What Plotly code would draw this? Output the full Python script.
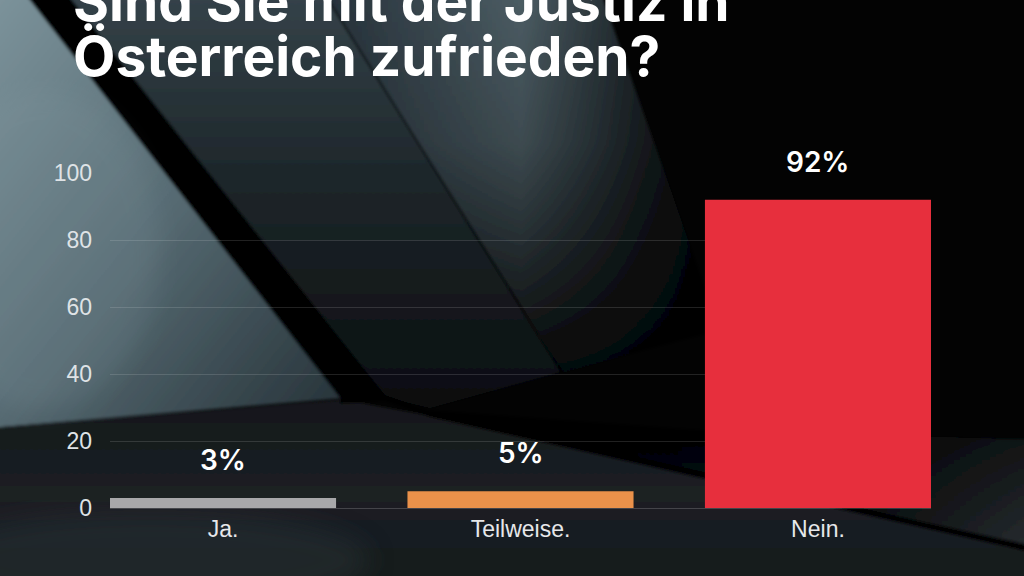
import base64
import plotly.graph_objects as go

# ---- data ----
categories = ["Ja.", "Teilweise.", "Nein."]
values = [3, 5, 92]
value_labels = ["3%", "5%", "92%"]
bar_colors = ["#a8a8aa", "#ea914a", "#e72f3d"]
y_ticks = [0, 20, 40, 60, 80, 100]
title_lines = ["Sind Sie mit der Justiz in", "Österreich zufrieden?"]

W, H = 1024, 576
L, R, T, B = 110, 93, 173, 68
PW, PH = W - L - R, H - T - B

def px(x):
    return (x - L) / PW

def py(y):
    return (H - B - y) / PH

# ---- background artwork (styling only) ----
svg = f"""<svg xmlns='http://www.w3.org/2000/svg' width='{W}' height='{H}' viewBox='0 0 {W} {H}' preserveAspectRatio='none'>
<defs>
<linearGradient id='gl' x1='0' y1='0' x2='1' y2='1'>
<stop offset='0' stop-color='#7d949c'/><stop offset='0.5' stop-color='#566a72'/><stop offset='1' stop-color='#243036'/></linearGradient>
<linearGradient id='gm' x1='0' y1='0' x2='0' y2='1'>
<stop offset='0' stop-color='#35434a'/><stop offset='0.45' stop-color='#1d262a'/><stop offset='1' stop-color='#0a0d0f'/></linearGradient>
<linearGradient id='gw' x1='0' y1='0' x2='1' y2='0'>
<stop offset='0' stop-color='#26313a'/><stop offset='0.5' stop-color='#4c5d64'/><stop offset='0.8' stop-color='#1a2125'/><stop offset='1' stop-color='#000'/></linearGradient>
<linearGradient id='gwv' x1='0' y1='0' x2='0' y2='1'>
<stop offset='0' stop-color='#000' stop-opacity='0'/><stop offset='0.4' stop-color='#000' stop-opacity='0.2'/><stop offset='1' stop-color='#000' stop-opacity='0.92'/></linearGradient>
<linearGradient id='gf' x1='0' y1='0' x2='0' y2='1'>
<stop offset='0' stop-color='#13171a'/><stop offset='0.5' stop-color='#1b2024'/><stop offset='1' stop-color='#15191c'/></linearGradient>
<linearGradient id='gr' x1='0' y1='0' x2='1' y2='0'>
<stop offset='0' stop-color='#060708'/><stop offset='0.7' stop-color='#0b0d0f'/><stop offset='1' stop-color='#262c30'/></linearGradient>
<linearGradient id='grv' x1='0' y1='0' x2='0' y2='1'>
<stop offset='0' stop-color='#000' stop-opacity='0.7'/><stop offset='1' stop-color='#000' stop-opacity='0'/></linearGradient>
<filter id='bl'><feGaussianBlur stdDeviation='1.5'/></filter>
<filter id='bl2'><feGaussianBlur stdDeviation='12'/></filter>
</defs>
<rect width='{W}' height='{H}' fill='#030303'/>
<g filter='url(#bl)'>
<polygon points='-10,-10 25,-10 345,398 -10,428' fill='url(#gl)'/>
<polygon points='62,-10 322,-10 560,372 430,408 380,396' fill='url(#gm)'/>
<polygon points='323,-10 600,-10 720,330 562,372' fill='url(#gw)'/>
<polygon points='323,-10 600,-10 720,330 562,372' fill='url(#gwv)'/>
<polygon points='22,-10 64,-10 386,396 343,402' fill='#040506'/>
<polyline points='322,-10 562,372' stroke='#050505' stroke-width='1.6' fill='none'/>
<polygon points='425,410 700,430 1034,440 1034,546 430,414' fill='url(#gr)'/>
<polygon points='425,410 700,430 1034,440 1034,546 430,414' fill='url(#grv)'/>
<polygon points='-10,428 345,400 430,416 1034,552 1034,586 -10,586' fill='url(#gf)'/>
<polyline points='340,401 385,398 430,414 1034,550' stroke='#040404' stroke-width='6' fill='none'/>
</g>
<ellipse cx='40' cy='250' rx='120' ry='160' fill='#8aa0a8' opacity='0.16' filter='url(#bl2)'/>
<ellipse cx='150' cy='560' rx='220' ry='50' fill='#262d31' opacity='0.6' filter='url(#bl2)'/>
</svg>"""
bg_uri = "data:image/svg+xml;base64," + base64.b64encode(svg.encode("utf-8")).decode("ascii")

fig = go.Figure()
fig.add_trace(go.Bar(
    x=categories, y=values,
    marker=dict(color=bar_colors, line=dict(width=0)),
    hoverinfo="skip",
))

annotations = []
for c, v, t in zip(categories, values, value_labels):
    annotations.append(dict(
        x=c, y=v, xref="x", yref="y", text=t, showarrow=False,
        yanchor="middle", yshift=38,
        font=dict(family="Inter", size=28, color="#ffffff", weight=600),
    ))
title_y = [1, 56]
for line, yy in zip(title_lines, title_y):
    annotations.append(dict(
        x=px(71), y=py(yy), xref="paper", yref="paper", text=line, showarrow=False,
        xanchor="left", yanchor="middle",
        font=dict(family="Inter", size=55, color="#ffffff", weight="bold"),
    ))

fig.update_layout(
    width=W, height=H,
    margin=dict(l=L, r=R, t=T, b=B, pad=0),
    paper_bgcolor="#030303",
    plot_bgcolor="rgba(0,0,0,0)",
    showlegend=False,
    bargap=0.24,
    annotations=annotations,
    images=[dict(
        source=bg_uri, xref="paper", yref="paper",
        x=px(0), y=py(0), sizex=W / PW, sizey=H / PH,
        xanchor="left", yanchor="top", sizing="stretch", layer="below",
    )],
    xaxis=dict(
        range=[-0.38, 2.38], showgrid=False, zeroline=False, showline=False,
        ticks="", ticklabelstandoff=5,
        tickfont=dict(family="Liberation Sans", size=23, color="#e6e8ea"),
        fixedrange=True,
    ),
    yaxis=dict(
        range=[0, 100], tickvals=y_ticks, ticktext=[str(v) for v in y_ticks],
        showgrid=True, gridcolor="rgba(255,255,255,0.13)", gridwidth=1,
        zeroline=True, zerolinecolor="rgba(255,255,255,0.18)", zerolinewidth=1,
        showline=False, ticks="", ticklabelstandoff=17,
        tickfont=dict(family="Liberation Sans", size=23, color="#dfe3e6"),
        fixedrange=True,
    ),
)

fig.write_html("out.html", config={"displayModeBar": False})
